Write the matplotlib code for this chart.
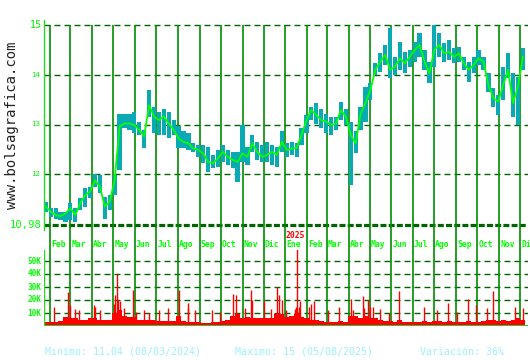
import matplotlib
matplotlib.use("Agg")
import numpy as np
import pandas as pd
import matplotlib.pyplot as plt
import matplotlib.dates as mdates

# weekly readings (Friday of each week) taken from the chart
week_start = "2024-01-26"
close = [11.35, 11.25, 11.18, 11.16, 11.21, 11.32, 11.18, 11.42, 11.58, 11.65,
         11.88, 11.75, 11.35, 11.45, 11.88, 12.96, 13.02, 13.02, 12.99, 12.89,
         12.76, 13.39, 13.16, 13.09, 13.16, 13.02, 12.89, 12.72, 12.65, 12.62,
         12.52, 12.49, 12.42, 12.25, 12.22, 12.32, 12.45, 12.35, 12.29, 12.25,
         12.42, 12.35, 12.62, 12.45, 12.35, 12.39, 12.45, 12.39, 12.65, 12.49,
         12.52, 12.53, 12.79, 13.09, 13.29, 13.19, 13.09, 13.06, 12.99, 13.02,
         13.29, 13.16, 12.79, 12.62, 13.22, 13.43, 13.69, 14.10, 14.26, 14.40,
         14.10, 14.16, 14.33, 14.23, 14.36, 14.50, 14.60, 14.26, 14.03, 14.50,
         14.60, 14.43, 14.46, 14.36, 14.43, 14.23, 14.10, 14.20, 14.33, 14.26,
         13.79, 13.53, 13.46, 13.79, 14.10, 13.43, 13.76, 14.36]
high = [11.45, 11.32, 11.32, 11.25, 11.25, 11.42, 11.32, 11.52, 11.72, 11.75,
        12.00, 11.98, 11.55, 11.58, 11.98, 13.22, 13.22, 13.22, 13.26, 13.06,
        12.89, 13.69, 13.36, 13.26, 13.32, 13.26, 13.09, 12.96, 12.86, 12.82,
        12.62, 12.59, 12.59, 12.55, 12.39, 12.49, 12.59, 12.49, 12.45, 12.45,
        13.00, 12.55, 12.79, 12.65, 12.59, 12.65, 12.59, 12.55, 12.86, 12.62,
        12.65, 12.62, 12.92, 13.19, 13.36, 13.43, 13.32, 13.22, 13.16, 13.16,
        13.46, 13.32, 13.06, 12.86, 13.36, 13.76, 13.83, 14.23, 14.43, 14.60,
        14.93, 14.36, 14.66, 14.46, 14.50, 14.66, 14.83, 14.50, 14.26, 15.00,
        14.83, 14.63, 14.70, 14.53, 14.56, 14.36, 14.26, 14.36, 14.50, 14.36,
        14.03, 13.73, 13.59, 14.16, 14.43, 14.03, 13.96, 14.53]
low = [11.25, 11.15, 11.11, 11.08, 11.05, 11.08, 11.04, 11.28, 11.35, 11.52,
       11.75, 11.62, 11.11, 11.28, 11.58, 12.09, 12.92, 12.89, 12.82, 12.79,
       12.52, 13.16, 12.82, 12.79, 12.79, 12.72, 12.79, 12.52, 12.52, 12.49,
       12.45, 12.35, 12.22, 12.05, 12.12, 12.15, 12.25, 12.19, 12.12, 11.85,
       12.25, 12.19, 12.45, 12.29, 12.25, 12.25, 12.19, 12.15, 12.45, 12.35,
       12.39, 12.35, 12.59, 12.82, 13.09, 13.02, 12.92, 12.82, 12.79, 12.89,
       13.09, 12.99, 11.78, 12.42, 12.89, 13.06, 13.49, 13.99, 14.06, 14.20,
       13.93, 13.99, 14.10, 14.03, 14.16, 14.26, 14.36, 14.10, 13.83, 14.16,
       14.36, 14.26, 14.30, 14.23, 14.26, 14.10, 13.86, 14.03, 14.20, 14.10,
       13.66, 13.36, 13.19, 13.49, 13.93, 13.16, 13.00, 14.10]
# typical daily volume per week, thousands
vol_base = [3, 3, 3, 4, 7, 6, 6, 5, 5, 6, 6, 5, 5, 5, 10, 12, 8, 7, 7,
            5, 5, 5, 5, 4, 4, 4, 4, 8, 4, 3, 3, 3, 2, 2, 3, 3, 4, 5, 8, 9,
            6, 7, 6, 6, 6, 6, 6, 9, 9, 7, 8, 9, 7, 6, 5, 5, 4, 3, 3, 3, 4, 3,
            8, 8, 6, 8, 6, 6, 5, 4, 4, 3, 5, 3, 3, 3, 3, 4, 3, 4, 4, 3, 4, 3,
            3, 3, 4, 3, 3, 4, 5, 5, 4, 5, 4, 5, 6, 5]
# single-day volume peaks, thousands
spike_dates = ["2024-02-06", "2024-02-26", "2024-03-01", "2024-03-08", "2024-03-13",
               "2024-04-03", "2024-04-05", "2024-04-12", "2024-05-02", "2024-05-03",
               "2024-05-07", "2024-05-08", "2024-05-10", "2024-05-17", "2024-05-29",
               "2024-06-03", "2024-06-14", "2024-06-21", "2024-07-05", "2024-07-18",
               "2024-08-02", "2024-08-15", "2024-08-16", "2024-08-26", "2024-09-19",
               "2024-09-30", "2024-10-18", "2024-10-23", "2024-11-04", "2024-11-13",
               "2024-11-15", "2024-12-02", "2024-12-11", "2024-12-20", "2024-12-23",
               "2024-12-27", "2025-01-02", "2025-01-14", "2025-01-16", "2025-01-17",
               "2025-01-20", "2025-01-22", "2025-02-03", "2025-02-07", "2025-02-11",
               "2025-03-03", "2025-03-19", "2025-04-04", "2025-04-07", "2025-04-22",
               "2025-04-23", "2025-04-28", "2025-05-02", "2025-05-06", "2025-05-16",
               "2025-05-29", "2025-06-12", "2025-07-17", "2025-08-05", "2025-08-20",
               "2025-09-02", "2025-09-18", "2025-09-29", "2025-10-15", "2025-10-23",
               "2025-11-24", "2025-12-05"]
spike_vol = [15, 26, 16, 13, 12, 16, 15, 12, 17, 24,
             40, 20, 19, 14, 28, 11, 12, 10, 12, 14,
             28, 18, 14, 12, 12, 11, 25, 24, 14, 28,
             20, 19, 13, 30, 24, 20, 12, 13, 15, 60,
             15, 19, 15, 17, 19, 12, 15, 21, 12, 23,
             14, 20, 15, 15, 13, 10, 27, 15, 12, 18,
             11, 21, 16, 14, 27, 15, 14]
# the last month label is cut by the chart edge in the original
month_names = ["Feb", "Mar", "Abr", "May", "Jun", "Jul", "Ago", "Sep", "Oct", "Nov", "Dic",
               "Ene", "Feb", "Mar", "Abr", "May", "Jun", "Jul", "Ago", "Sep", "Oct", "Nov", "Di"]
price_ticks = [12, 13, 14]
vol_ticks = [10, 20, 30, 40, 50]

plt.rcParams["lines.scale_dashes"] = False
mono = "DejaVu Sans Mono"
LIME = "#00ff00"
DARK = "#006400"
MONTH = "#008c00"
TEAL = "#0aaab4"

W, H = 530, 360
fig = plt.figure(figsize=(W / 100, H / 100), dpi=100)
fig.patch.set_facecolor("white")

def px_axes(x0, y0, x1, y1):
    return fig.add_axes([x0 / W, 1 - y1 / H, (x1 - x0) / W, (y1 - y0) / H])

ax = px_axes(44, 20, 528, 250)
axv = px_axes(44, 250, 528, 326)

weeks = pd.date_range(week_start, periods=len(close), freq="7D")
months = pd.date_range("2024-02-01", periods=len(month_names), freq="MS")
xmin = mdates.date2num(pd.Timestamp("2024-01-23 11:00"))
xmax = mdates.date2num(pd.Timestamp("2025-12-12 08:00"))

px_per_unit = 49.75
ax.set_xlim(xmin, xmax)
ax.set_ylim(15 - 225 / px_per_unit, 15 + 5 / px_per_unit)
for a in (ax, axv):
    a.set_xticks([])
    a.set_yticks([])
    for s in a.spines.values():
        s.set_visible(False)
    a.patch.set_alpha(0)

# grid
for v in [12, 13, 14, 15]:
    ax.axhline(v, color=DARK, lw=1.0, dashes=(4.3, 2.9), zorder=1)
ax.axhline(10.98, color=DARK, lw=2.3, dashes=(4.3, 1.6), zorder=1)
ax.vlines(months, ax.get_ylim()[0], 15, color=MONTH, lw=1.2, zorder=1)
ax.plot([xmin, xmin], [15 - 205 / px_per_unit, ax.get_ylim()[1]], color="#22dd22", lw=1.0,
        clip_on=False, zorder=5)

# price
lo = np.array(low)
hi = np.array(high)
ax.bar(weeks, hi - lo, bottom=lo, width=6.0, color=TEAL, linewidth=0, zorder=2)
ax.plot(weeks, close, color=LIME, lw=1.3, zorder=3)

# price labels
ytr = ax.get_yaxis_transform()
ax.text(-0.004, 15, "15", transform=ytr, ha="right", va="center", color=LIME,
        family=mono, fontsize=7.4)
for v in price_ticks:
    ax.text(-0.009, v, str(v), transform=ytr, ha="right", va="center", color=LIME,
            family=mono, fontsize=5.4)
ax.text(-0.004, 10.98, "10,98", transform=ytr, ha="right", va="center", color=LIME,
        family=mono, fontsize=7.6)

xtr = ax.get_xaxis_transform()
for d, name in zip(months, month_names):
    ax.text(mdates.date2num(d) + 1.5, 0.026, name, transform=xtr, ha="left", va="center",
            color=LIME, family=mono, fontsize=5.8, fontweight="bold", clip_on=False)
ax.text(mdates.date2num(pd.Timestamp("2025-01-01")), 0.061, "2025", transform=xtr,
        ha="left", va="center", color="#ff0000", family=mono, fontsize=5.8, fontweight="bold")

# volume
axv.set_xlim(xmin, xmax)
axv.set_ylim(0, 76 / 1.3)
for v in vol_ticks:
    axv.axhline(v, color=DARK, lw=1.0, dashes=(4.3, 2.9), zorder=1)
    axv.text(-0.005, v, f"{v}K", transform=axv.get_yaxis_transform(), ha="right",
             va="center", color=LIME, family=mono, fontsize=5.6, fontweight="bold")
axv.vlines(months, 0, axv.get_ylim()[1], color=MONTH, lw=1.2, zorder=1)
axv.bar(weeks, vol_base, width=7.0, color="#ff0000", linewidth=0, zorder=2)
axv.vlines(pd.to_datetime(spike_dates), 0, spike_vol, color="#ff0000", lw=1.0, zorder=2)
axv.axhline(0, color="#22cc22", lw=1.4, zorder=4)
axv.axvline(xmin, color="#22dd22", lw=1.0, zorder=4)

# watermark and footer
fig.text(12 / W, 1 - 125 / H, "www.bolsagrafica.com", rotation=90, ha="center", va="center",
         color="#222222", family=mono, fontsize=10)
foot = dict(color="#9ff0ff", family=mono, fontsize=7.2, va="center", ha="left")
fig.text(45 / W, 1 - 352 / H, "Minimo: 11,04 (08/03/2024)", **foot)
fig.text(235 / W, 1 - 352 / H, "Maximo: 15 (05/08/2025)", **foot)
fig.text(420 / W, 1 - 352 / H, "Variación: 36%", **foot)

fig.savefig("out.png", dpi=100)
